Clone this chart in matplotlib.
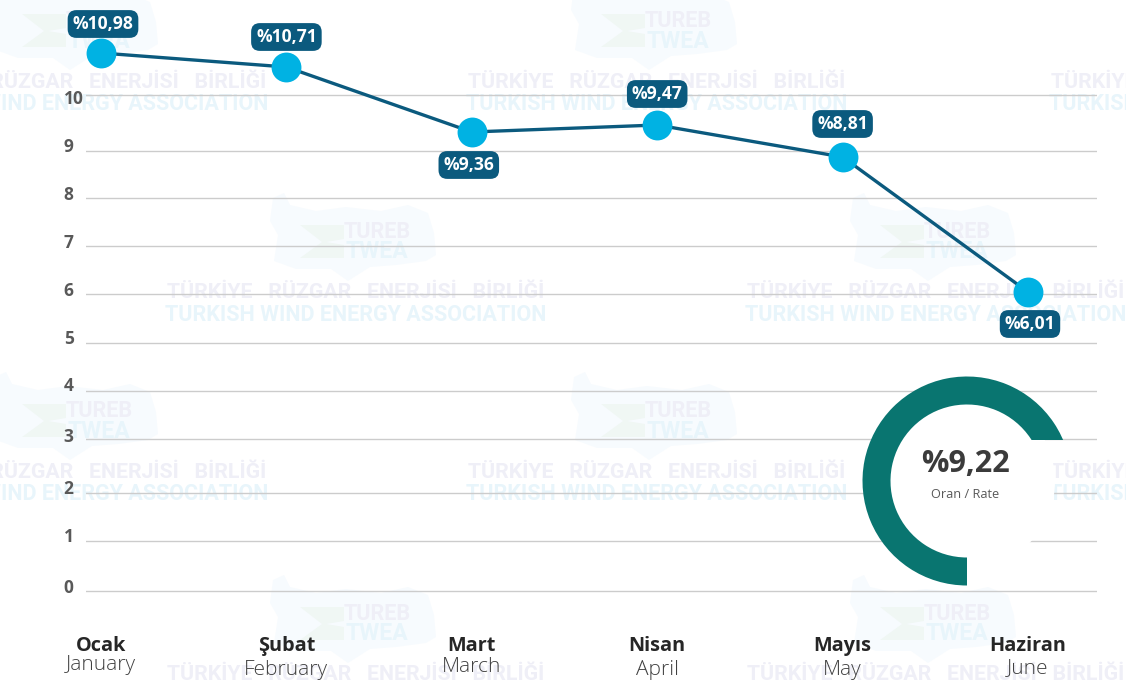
import numpy as np
import matplotlib
matplotlib.use("Agg")
import matplotlib.pyplot as plt
from matplotlib.patches import Wedge, Circle, Polygon
from matplotlib.transforms import ScaledTranslation

# ---- data ----
months_tr = ["Ocak", "Şubat", "Mart", "Nisan", "Mayıs", "Haziran"]
months_en = ["January", "February", "March", "April", "May", "June"]
rates = [10.98, 10.71, 9.36, 9.47, 8.81, 6.01]
rate_labels = ["%10,98", "%10,71", "%9,36", "%9,47", "%8,81", "%6,01"]
y_ticks = [0, 1, 2, 3, 4, 5, 6, 7, 8, 9, 10]
average_label = "%9,22"
average_caption = "Oran / Rate"

# ---- layout ----
W, H = 1126, 681
DPI = 100
BLUE, CYAN, PILL, TEAL = "#0B5A7E", "#00B2E3", "#0B5A7E", "#097570"
# the source axis is unevenly spaced: value -> pixel row
scale_vals = [-0.2, 0, 1, 2, 3, 4, 5, 6, 6.01, 7, 8, 8.81, 9, 9.36, 9.47, 10, 10.71, 10.98, 11.4]
scale_rows = [601, 591, 541, 493, 439, 391, 343, 294, 292, 246, 198, 157, 151, 132, 125, 95, 67, 53, 33]
pill_offsets = [(2, -29), (0, -30), (-3, 33), (0, -31), (0, -33), (2, 32)]
en_rows = [665, 670, 667, 670, 670, 668]
tick_shift = [5, 6, 6, 4, 7, 6, 5, 5, 5, 6, -2]

plt.rcParams["font.family"] = ["Open Sans", "DejaVu Sans"]
fig = plt.figure(figsize=(W / DPI, H / DPI), dpi=DPI, facecolor="white")

# ---- watermark / background layer, in pixel coordinates ----
bg = fig.add_axes([0, 0, 1, 1], zorder=0)
bg.set_xlim(0, W); bg.set_ylim(H, 0); bg.axis("off")
turkey = np.array([(-83, -95), (-72, -100), (-66, -88), (-40, -82), (-10, -86), (25, -82), (52, -88),
                   (72, -80), (78, -60), (80, -38), (70, -32), (40, -28), (14, -26), (-8, -12),
                   (-25, -24), (-60, -24), (-82, -32), (-78, -58), (-86, -72)], float)
chevron = np.array([(-56, -68), (-12, -68), (-12, -54), (-30, -51), (-12, -48), (-12, -35),
                    (-56, -35), (-34, -51)], float)
tiles = [(78, 82), (657, 82), (1240, 82), (356, 293), (936, 293), (78, 472), (657, 472), (1240, 472),
         (356, 675), (936, 675)]
for cx, cy in tiles:
    bg.add_patch(Polygon(turkey + (cx, cy), fc="#F7FBFE", ec="none"))
    bg.add_patch(Polygon(chevron + (cx, cy), fc="#F0F7F4", ec="none"))
    bg.text(cx + 21, cy - 61, "TUREB", color="#EFEFF7", fontsize=15.5, fontweight="bold", family="Roboto",
            ha="center", va="center")
    bg.text(cx + 21, cy - 41, "TWEA", color="#E8F5FB", fontsize=16.5, fontweight="bold", family="Roboto",
            ha="center", va="center")
    bg.text(cx, cy, "TÜRKİYE   RÜZGAR   ENERJİSİ   BİRLİĞİ", color="#EFEFF7", fontsize=15.3,
            fontweight="bold", family="Roboto", ha="center", va="center")
    bg.text(cx, cy + 22, "TURKISH WIND ENERGY ASSOCIATION", color="#E8F5FB", fontsize=15.5,
            fontweight="bold", family="Roboto", ha="center", va="center")

# ---- main chart ----
step = 185.4
x0 = 101
left_px, right_px = 86, 1097
top_px, bottom_px = 33, 601
ax = fig.add_axes([left_px / W, 1 - bottom_px / H, (right_px - left_px) / W, (bottom_px - top_px) / H], zorder=1)
ax.patch.set_alpha(0)


def forward(v):
    return -np.interp(v, scale_vals, scale_rows)


def inverse(r):
    return np.interp(-np.asarray(r), scale_rows[::-1], scale_vals[::-1])


ax.set_yscale("function", functions=(forward, inverse))
ax.set_ylim(-0.2, 11.4)
ax.set_xlim((left_px - x0) / step, (right_px - x0) / step)
xs = np.arange(len(rates))
ax.set_yticks(y_ticks)
ax.set_yticklabels([str(v) for v in y_ticks], color="#595959", fontsize=12.5, fontweight="bold")
ax.minorticks_off()
ax.set_xticks([])
ax.tick_params(axis="y", length=0, pad=16)
ax.grid(axis="y", color="#CCCCCC", lw=1.0, zorder=1)
ax.set_axisbelow(True)
for s in ax.spines.values():
    s.set_visible(False)
for tick, dy in zip(ax.yaxis.get_major_ticks(), tick_shift):
    lab = tick.label1
    lab.set_ha("left")
    lab.set_transform(lab.get_transform() + ScaledTranslation(0, dy / DPI, fig.dpi_scale_trans))

# donut on top of the gridlines
fg = fig.add_axes([0, 0, 1, 1], zorder=2)
fg.set_xlim(0, W); fg.set_ylim(H, 0); fg.axis("off"); fg.patch.set_alpha(0)
fg.add_patch(Circle((967, 481), 88, fc="white", ec="none"))
ring = Wedge((967, 481), 104.5, 90, 360, width=28, fc=TEAL, ec="none")
fg.add_patch(ring)
clip = Polygon([(850, 600), (967, 600), (967, 440), (1075, 440), (1075, 365), (850, 365)],
               transform=fg.transData, fc="none", ec="none")
fg.add_patch(clip)
ring.set_clip_path(clip)
fg.text(965, 464, average_label, ha="center", va="center", fontsize=22, fontweight="bold", color="#3B3B3B")
fg.text(965, 494, average_caption, ha="center", va="center", fontsize=9.2, color="#595959")

# series on top
top = fig.add_axes(ax.get_position(), zorder=3, sharex=ax, sharey=ax)
top.patch.set_alpha(0)
top.axis("off")
top.plot(xs, rates, color=BLUE, lw=2.4, clip_on=False, zorder=3)
top.plot(xs, rates, ls="none", marker="o", ms=21.5, mfc=CYAN, mec="none", clip_on=False, zorder=4)
for x, v, lab, (dx, dy) in zip(xs, rates, rate_labels, pill_offsets):
    top.annotate(lab, (x, v), xytext=(dx * 0.72, -dy * 0.72),
                 textcoords="offset points", ha="center", va="center", color="white",
                 fontsize=12.6, fontweight="bold", zorder=5, annotation_clip=False,
                 bbox=dict(boxstyle="round,pad=0.28,rounding_size=0.5", fc=PILL, ec="none"))

# month labels
for i, (tr, en, row) in enumerate(zip(months_tr, months_en, en_rows)):
    px = x0 + step * i
    fg.text(px, 646, tr, ha="center", va="center", fontsize=14.3, fontweight="bold", color="#262626")
    fg.text(px, row, en, ha="center", va="center", fontsize=15, fontweight="light", color="#404040")

fig.savefig("out.png", dpi=DPI, facecolor="white")
